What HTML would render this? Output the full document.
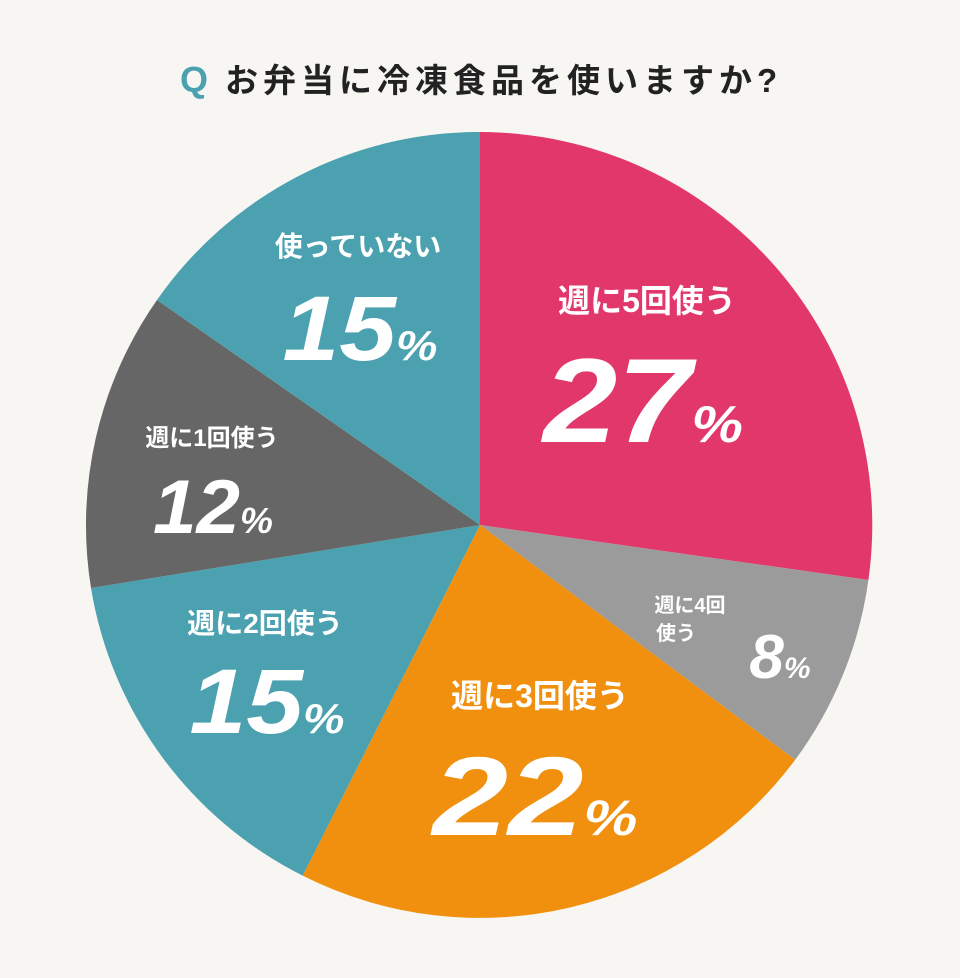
<!DOCTYPE html>
<html><head><meta charset="utf-8"><style>
html,body{margin:0;padding:0;background:#f7f6f2;}
svg{display:block;}
text{font-family:"Liberation Sans","Noto Sans CJK JP",sans-serif;font-weight:bold;}
.w{fill:#fff;}
.n{font-style:italic;}
</style></head><body>
<svg width="960" height="978" viewBox="0 0 960 978">
<rect width="960" height="978" fill="#f7f6f2"/>
<text x="194" y="92" font-size="36" fill="#4ba1b0" text-anchor="middle">Q</text>
<text x="225" y="92" font-size="33" letter-spacing="5" fill="#222">お弁当に冷凍食品を使いますか?</text>
<path d="M480,525 L480,132 A393,393 0 0 1 868.4,580 Z" fill="#e2376b"/>
<path d="M480,525 L868.4,580 A393,393 0 0 1 795.2,759.8 Z" fill="#9b9b9b"/>
<path d="M480,525 L795.2,759.8 A393,393 0 0 1 302.7,875.6 Z" fill="#f0900e"/>
<path d="M480,525 L302.7,875.6 A393,393 0 0 1 91,588 Z" fill="#4ba1b0"/>
<path d="M480,525 L91,588 A393,393 0 0 1 157,300 Z" fill="#666666"/>
<path d="M480,525 L157,300 A393,393 0 0 1 480,132 Z" fill="#4ba1b0"/>

<g class="w" text-anchor="middle">
<text x="647" y="312" font-size="32">週に5回使う</text>
<text x="643" y="442" font-size="120" class="n" textLength="200" lengthAdjust="spacingAndGlyphs">27<tspan font-size="52">%</tspan></text>

<text x="690" y="612" font-size="20">週に4回</text>
<text x="676" y="640" font-size="20">使う</text>
<text x="780" y="678" font-size="62" class="n">8<tspan font-size="30">%</tspan></text>

<text x="540" y="707" font-size="32">週に3回使う</text>
<text x="535" y="835" font-size="112" class="n" textLength="205" lengthAdjust="spacingAndGlyphs">22<tspan font-size="50">%</tspan></text>

<text x="265" y="633" font-size="28">週に2回使う</text>
<text x="267" y="733" font-size="92" class="n" textLength="155" lengthAdjust="spacingAndGlyphs">15<tspan font-size="42">%</tspan></text>

<text x="212" y="446" font-size="24">週に1回使う</text>
<text x="213" y="533" font-size="76" class="n" textLength="120" lengthAdjust="spacingAndGlyphs">12<tspan font-size="36">%</tspan></text>

<text x="358" y="256" font-size="28">使っていない</text>
<text x="360" y="360" font-size="92" class="n" textLength="155" lengthAdjust="spacingAndGlyphs">15<tspan font-size="42">%</tspan></text>
</g>
</svg>
</body></html>
